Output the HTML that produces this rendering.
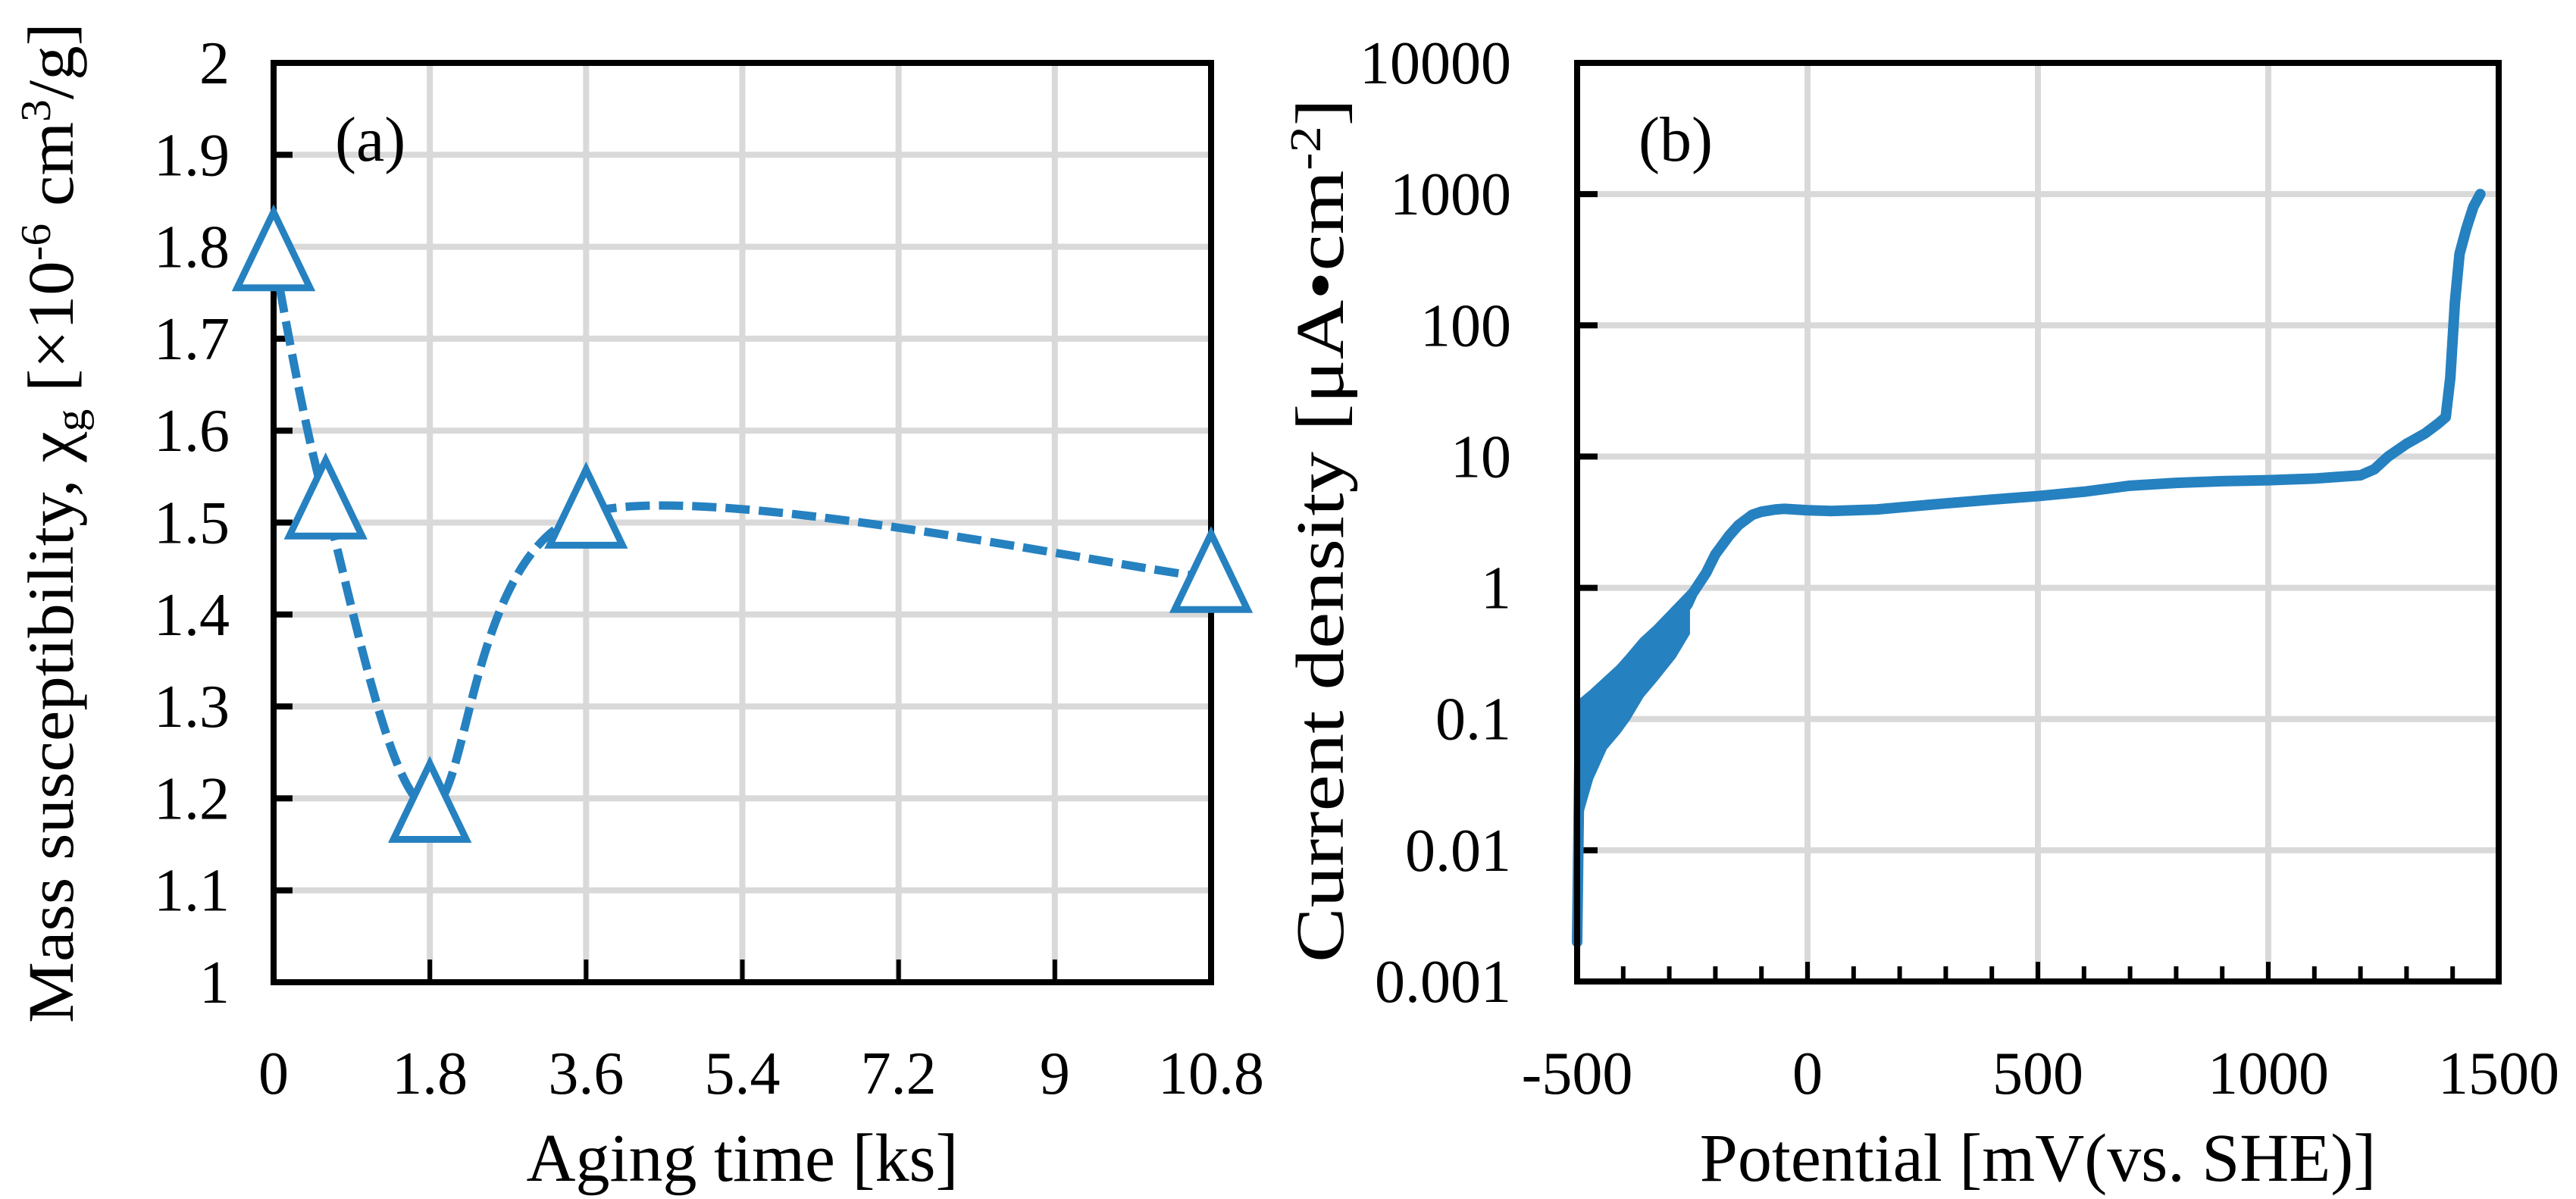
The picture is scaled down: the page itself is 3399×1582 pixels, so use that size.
<!DOCTYPE html>
<html><head><meta charset="utf-8"><style>
html,body{margin:0;padding:0;background:#fff;}
svg{display:block;}
text{font-family:"Liberation Serif",serif;fill:#000;}
</style></head><body>
<svg id="fig" width="3399" height="1582" viewBox="0 0 3399 1582" xmlns="http://www.w3.org/2000/svg">
<g id="pa"></g>
<g id="pb"></g>
</svg>
<script>
// ---- Panel (a) data ----
const agingTime = [0, 0.6, 1.8, 3.6, 10.8];
const susceptibility = [1.79, 1.52, 1.19, 1.51, 1.44];
const aXTicks = [0, 1.8, 3.6, 5.4, 7.2, 9, 10.8];
const aXTickLabels = ["0", "1.8", "3.6", "5.4", "7.2", "9", "10.8"];
const aYTicks = [1, 1.1, 1.2, 1.3, 1.4, 1.5, 1.6, 1.7, 1.8, 1.9, 2];
const aYTickLabels = ["1", "1.1", "1.2", "1.3", "1.4", "1.5", "1.6", "1.7", "1.8", "1.9", "2"];

// ---- Panel (b) data ----
const potential = [-500,-495,-480,-450,-420,-400,-370,-350,-320,-300,-280,-260,-250,-220,-200,-170,-150,-120,-100,-70,-50,0,50,100,150,200,300,400,500,600,700,800,900,1000,1050,1100,1150,1200,1230,1260,1300,1340,1370,1385,1395,1405,1415,1430,1445,1460];
const currentDensity = [0.002,0.05,0.1,0.13,0.16,0.2,0.25,0.3,0.4,0.5,0.6,0.75,0.9,1.3,1.8,2.5,3.0,3.6,3.8,3.95,4.0,3.9,3.85,3.9,3.95,4.1,4.4,4.7,5.0,5.4,6.0,6.3,6.5,6.6,6.7,6.8,7.0,7.2,8.0,10,12.5,15,18,20,40,150,350,550,800,1000];
const noiseHi = [0.13,0.14,0.16,0.2,0.25,0.3,0.4,0.5,0.7,0.9];
const noiseLo = [0.006,0.02,0.035,0.06,0.08,0.1,0.15,0.2,0.3,0.45];
const noiseX = [-500,-490,-470,-440,-410,-390,-360,-330,-290,-260];
const bXTicks = [-500, 0, 500, 1000, 1500];
const bXTickLabels = ["-500", "0", "500", "1000", "1500"];
const bYTicks = [0.001, 0.01, 0.1, 1, 10, 100, 1000, 10000];
const bYTickLabels = ["0.001", "0.01", "0.1", "1", "10", "100", "1000", "10000"];

const NS = "http://www.w3.org/2000/svg";
function mk(parent, tag, attrs, txt){
  const e = document.createElementNS(NS, tag);
  for (const k in attrs) e.setAttribute(k, attrs[k]);
  if (txt !== undefined) e.textContent = txt;
  parent.appendChild(e); return e;
}
const BLUE = "#2681c0", GRID = "#d9d9d9";
const TICKFS = 80;

// ===== Panel A =====
(function(){
  const g = document.getElementById("pa");
  const L=361, R=1598, T=83, B=1296;
  const xS = v => L + (v-0)/(10.8-0)*(R-L);
  const yS = v => B - (v-1)/(2-1)*(B-T);
  aXTicks.forEach((t,i)=>{ if(i>0 && i<aXTicks.length-1){
    const l = mk(g,"line",{x1:xS(t),x2:xS(t),y1:T,y2:B,stroke:GRID,"stroke-width":8});
    
    
  }});
  aYTicks.forEach((t,i)=>{ if(i>0 && i<aYTicks.length-1){
    const l = mk(g,"line",{x1:L,x2:R,y1:yS(t),y2:yS(t),stroke:GRID,"stroke-width":8});
    
    
  }});
  aYTicks.forEach(t=>{
    const l = mk(g,"line",{x1:L,x2:L+25,y1:yS(t),y2:yS(t),stroke:"#000","stroke-width":8});
    
    
  });
  aXTicks.forEach(t=>{
    const l = mk(g,"line",{x1:xS(t),x2:xS(t),y1:B,y2:B-30,stroke:"#000","stroke-width":6});
    
    
  });
  const fr = mk(g,"rect",{x:L,y:T,width:R-L,height:B-T,fill:"none",stroke:"#000","stroke-width":8});
  
  
  const P = agingTime.map((t,i)=>[xS(t),yS(susceptibility[i])]);
  let d = "M"+P[0][0]+","+P[0][1];
  for(let i=0;i<P.length-1;i++){
    const p0=P[Math.max(0,i-1)],p1=P[i],p2=P[i+1],p3=P[Math.min(P.length-1,i+2)];
    const s=1/6*0.9;
    const c1=[p1[0]+(p2[0]-p0[0])*s,p1[1]+(p2[1]-p0[1])*s];
    const c2=[p2[0]-(p3[0]-p1[0])*s,p2[1]-(p3[1]-p1[1])*s];
    d+=" C"+c1[0]+","+c1[1]+" "+c2[0]+","+c2[1]+" "+p2[0]+","+p2[1];
  }
  const cv = mk(g,"path",{d:d,fill:"none",stroke:BLUE,"stroke-width":11,"stroke-dasharray":"32,12"});
  
  
  P.forEach(p=>{
    const h=100, w=96, cy=p[1]+8;
    const tri = mk(g,"polygon",{points:`${p[0]},${cy-h*0.66} ${p[0]-w/2},${cy+h*0.34} ${p[0]+w/2},${cy+h*0.34}`,fill:"#fff",stroke:BLUE,"stroke-width":9});
    
    
  });
  aYTicks.forEach((t,i)=>{
    const tx = mk(g,"text",{x:L-58,y:yS(t)+27,"text-anchor":"end","font-size":TICKFS},aYTickLabels[i]);
    
    
  });
  aXTicks.forEach((t,i)=>{
    const tx = mk(g,"text",{x:xS(t),y:1443,"text-anchor":"middle","font-size":TICKFS},aXTickLabels[i]);
    
    
  });
  const xt = mk(g,"text",{x:(L+R)/2,y:1558,"text-anchor":"middle","font-size":90},"Aging time [ks]");
  
  
  const yt = mk(g,"text",{x:0,y:0,"text-anchor":"middle","font-size":86,transform:"translate(96,690) rotate(-90)",textLength:1320,lengthAdjust:"spacingAndGlyphs"});
  yt.innerHTML = 'Mass susceptibility, χ<tspan font-size="56" dy="16">g</tspan><tspan dy="-16"> [×10</tspan><tspan font-size="56" dy="-30">-6</tspan><tspan dy="30"> cm</tspan><tspan font-size="56" dy="-30">3</tspan><tspan dy="30">/g]</tspan>';
  
  
  const lb = mk(g,"text",{x:442,y:212,"font-size":84},"(a)");
  
  
})();

// ===== Panel B =====
(function(){
  const g = document.getElementById("pb");
  const L=2081, R=3297, T=83, B=1295;
  const xS = v => L + (v+500)/2000*(R-L);
  const yS = v => B - (Math.log10(v)+3)/7*(B-T);
  bXTicks.forEach((t,i)=>{ if(i>0 && i<bXTicks.length-1){
    const l = mk(g,"line",{x1:xS(t),x2:xS(t),y1:T,y2:B,stroke:GRID,"stroke-width":8});
    
    
  }});
  bYTicks.forEach((t,i)=>{ if(i>0 && i<bYTicks.length-1){
    const l = mk(g,"line",{x1:L,x2:R,y1:yS(t),y2:yS(t),stroke:GRID,"stroke-width":8});
    
    
  }});
  bYTicks.forEach(t=>{
    const l = mk(g,"line",{x1:L,x2:L+27,y1:yS(t),y2:yS(t),stroke:"#000","stroke-width":8});
    
    
  });
  for(let v=-500; v<=1500; v+=100){
    const major = (v%500===0);
    const l = mk(g,"line",{x1:xS(v),x2:xS(v),y1:B,y2:B-(major?26:20),stroke:"#000","stroke-width":6});
    
    
  }
  let pd = "M"+noiseX.map((x,i)=>xS(x)+","+yS(noiseHi[i])).join(" L");
  for(let i=noiseX.length-1;i>=0;i--) pd += " L"+xS(noiseX[i])+","+yS(noiseLo[i]);
  pd += "Z";
  const band = mk(g,"path",{d:pd,fill:BLUE,stroke:BLUE,"stroke-width":6});
  
  
  const ld = "M"+potential.map((x,i)=>xS(x)+","+yS(currentDensity[i])).join(" L");
  const ln = mk(g,"path",{d:ld,fill:"none",stroke:BLUE,"stroke-width":14,"stroke-linejoin":"round","stroke-linecap":"round"});
  
  
  const fr = mk(g,"rect",{x:L,y:T,width:R-L,height:B-T,fill:"none",stroke:"#000","stroke-width":8});
  
  
  bYTicks.forEach((t,i)=>{
    const tx = mk(g,"text",{x:1994,y:yS(t)+27,"text-anchor":"end","font-size":TICKFS},bYTickLabels[i]);
    
    
  });
  bXTicks.forEach((t,i)=>{
    const tx = mk(g,"text",{x:xS(t),y:1443,"text-anchor":"middle","font-size":TICKFS},bXTickLabels[i]);
    
    
  });
  const xt = mk(g,"text",{x:(L+R)/2,y:1558,"text-anchor":"middle","font-size":90},"Potential [mV(vs. SHE)]");
  
  
  const yt = mk(g,"text",{x:0,y:0,"text-anchor":"middle","font-size":90,transform:"translate(1772,700) rotate(-90)",textLength:1140,lengthAdjust:"spacingAndGlyphs"});
  yt.innerHTML = 'Current density [μA•cm<tspan font-size="58" dy="-30">-2</tspan><tspan dy="30">]</tspan>';
  
  
  const lb = mk(g,"text",{x:2162,y:212,"font-size":84},"(b)");
  
  
})();
</script>
</body></html>
